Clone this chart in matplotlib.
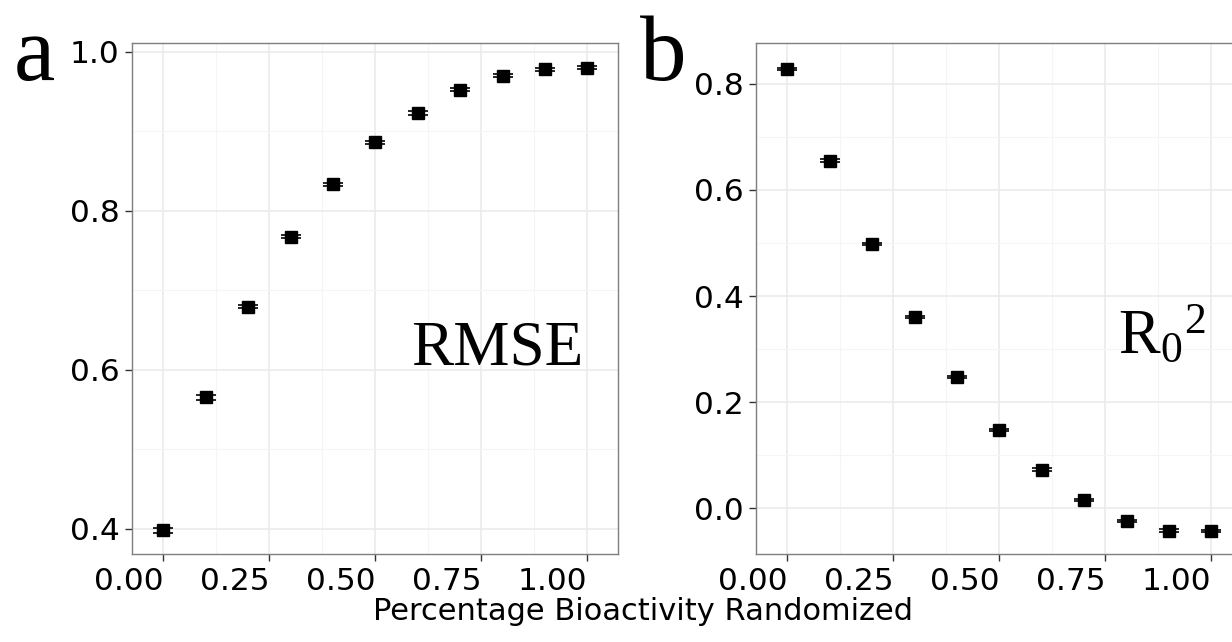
import matplotlib
matplotlib.use("Agg")
import matplotlib.pyplot as plt
from matplotlib.ticker import FixedLocator

plt.rcParams['mathtext.fontset'] = 'custom'
plt.rcParams['mathtext.rm'] = 'Liberation Serif'
plt.rcParams['mathtext.it'] = 'Liberation Serif'

# Data
frac = [0.0, 0.1, 0.2, 0.3, 0.4, 0.5, 0.6, 0.7, 0.8, 0.9, 1.0]
rmse = [0.398, 0.565, 0.679, 0.767, 0.833, 0.886, 0.923, 0.952, 0.970, 0.978, 0.980]
rmse_err = [0.003, 0.003, 0.002, 0.002, 0.002, 0.002, 0.002, 0.002, 0.002, 0.002, 0.002]
r02 = [0.828, 0.655, 0.498, 0.360, 0.248, 0.148, 0.073, 0.016, -0.024, -0.042, -0.043]
r02_err = [0.002, 0.003, 0.002, 0.002, 0.002, 0.002, 0.002, 0.002, 0.002, 0.002, 0.002]
xticks = [0.0, 0.25, 0.5, 0.75, 1.0]
xtick_labels = ["0.00", "0.25", "0.50", "0.75", "1.00"]
a_yticks = [0.4, 0.6, 0.8, 1.0]
a_ytick_labels = ["0.4", "0.6", "0.8", "1.0"]
b_yticks = [0.0, 0.2, 0.4, 0.6, 0.8]
b_ytick_labels = ["0.0", "0.2", "0.4", "0.6", "0.8"]

W, H = 1232, 642
fig = plt.figure(figsize=(W / 100, H / 100), dpi=100)

def px_axes(l, t, r, b):
    return fig.add_axes([l / W, 1 - b / H, (r - l) / W, (b - t) / H])

ax1 = px_axes(132, 43, 618, 554)
ax2 = px_axes(756, 43, 1242, 554)

def style(ax, yticks, ylabels, ylim, yminor):
    ax.set_facecolor('white')
    ax.set_xlim(-0.074, 1.072)
    ax.set_ylim(*ylim)
    ax.set_xticks(xticks)
    ax.set_xticklabels(xtick_labels, ha='right')
    ax.set_yticks(yticks)
    ax.set_yticklabels(ylabels)
    ax.xaxis.set_minor_locator(FixedLocator([0.125, 0.375, 0.625, 0.875]))
    ax.yaxis.set_minor_locator(FixedLocator(yminor))
    ax.grid(which='major', color='#EBEBEB', linewidth=1.2, zorder=0)
    ax.grid(which='minor', color='#F5F5F5', linewidth=0.8, zorder=0)
    ax.set_axisbelow(True)
    for s in ax.spines.values():
        s.set_color('#7F7F7F')
        s.set_linewidth(1.0)
    ax.tick_params(which='major', length=5, width=1, color='#333333',
                   labelsize=22.5, labelcolor='black', pad=4)
    ax.tick_params(which='minor', length=0)

style(ax1, a_yticks, a_ytick_labels, (0.368, 1.011), [0.5, 0.7, 0.9])
style(ax2, b_yticks, b_ytick_labels, (-0.0862, 0.877), [0.1, 0.3, 0.5, 0.7])

for ax, y, e in [(ax1, rmse, rmse_err), (ax2, r02, r02_err)]:
    ax.errorbar(frac, y, yerr=e, fmt='s', color='black', markersize=8.3,
                capsize=7.5, capthick=1.2, elinewidth=1.0, zorder=3)

ax1.text(0.752, 0.370, 'RMSE', transform=ax1.transAxes, ha='center', va='baseline',
         fontsize=45.5, family='Liberation Serif')
ax2.text(0.745, 0.393, r'$\mathrm{{R_0}^2}$', transform=ax2.transAxes, ha='left',
         va='baseline', fontsize=45)

fig.text(14 / W, 1 - 80 / H, 'a', fontsize=67, family='Liberation Serif', va='baseline')
fig.text(640 / W, 1 - 80 / H, 'b', fontsize=67, family='Liberation Serif', va='baseline')

fig.text(643 / W, 1 - 611 / H, 'Percentage Bioactivity Randomized', ha='center',
         va='center', fontsize=22, family='DejaVu Sans')

fig.savefig('out.png', dpi=100, facecolor='white')
